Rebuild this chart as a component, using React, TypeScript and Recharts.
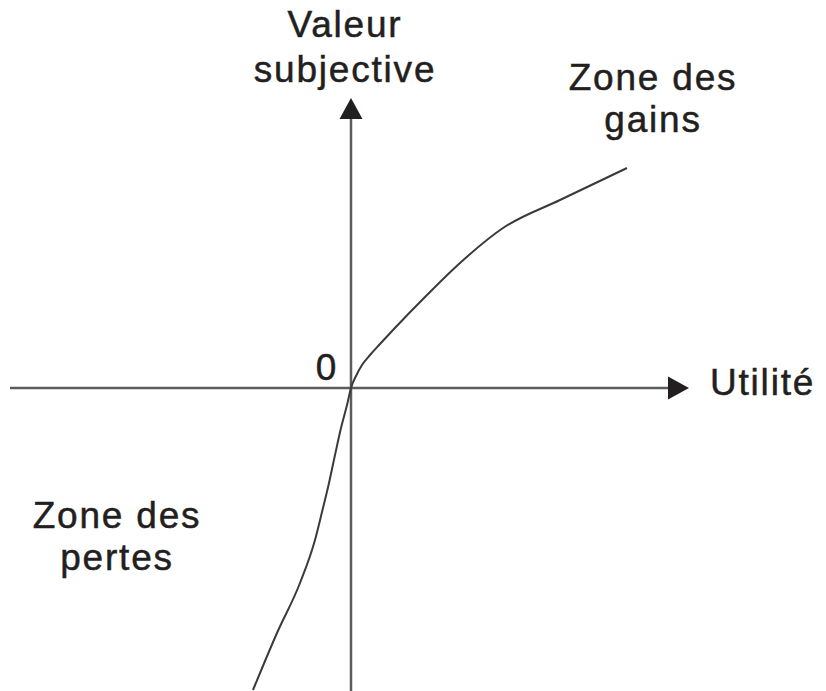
import { LineChart, Line, XAxis, YAxis, ReferenceLine, ReferenceDot } from 'recharts'

// Value function (prospect theory): utility on x, subjective value on y
const utility = [-9.8, -7.4, -5.1, -3.6, -2.9, -2.2, -1.6, -1.0, -0.4, 0, 0.5, 1.1, 1.9, 2.9, 4.2, 7.6, 10.9, 15.2, 20.9, 27.6]
const subjective = [-30.2, -24.5, -19.5, -15.2, -12.4, -9.5, -6.7, -4.0, -1.7, 0, 1.2, 2.3, 3.3, 4.4, 5.8, 9.3, 12.5, 16.0, 18.8, 22.0]

const xDomain: [number, number] = [-35.1, 47.5]
const yDomain: [number, number] = [-30.3, 38.8]

// axis extents (start → arrow tip)
const xAxisFrom = -34.1
const xAxisTo = 33.8
const yAxisFrom = -30.3
const yAxisTo = 29.0

// text labels: [lines, x, y of first baseline, anchor, line gap]
const labels: [string[], number, number, 'start' | 'middle' | 'end', number][] = [
  [['Valeur', 'subjective'], -0.6, 35.1, 'middle', 45],
  [['Zone des', 'gains'], 30.2, 29.8, 'middle', 42],
  [['Zone des', 'pertes'], -23.4, -14.0, 'middle', 42],
  [['0'], -2.4, 0.8, 'middle', 0],
  [['Utilité'], 35.9, -0.7, 'start', 0],
]

const data = utility.map((u, i) => ({ u, v: subjective[i] }))

const AXIS = '#5c5c5c'
const INK = '#231f20'
const FONT = '"Liberation Sans", Arial, sans-serif'

function Arrow(props: any) {
  const { x1, y1, x2, y2 } = props
  const dx = x2 - x1
  const dy = y2 - y1
  const len = Math.sqrt(dx * dx + dy * dy) || 1
  const ux = dx / len
  const uy = dy / len
  const head = 21
  const half = 11.5
  const bx = x2 - ux * head
  const by = y2 - uy * head
  return (
    <g>
      <line x1={x1} y1={y1} x2={bx} y2={by} stroke={AXIS} strokeWidth={2.5} />
      <polygon
        points={`${x2},${y2} ${bx - uy * half},${by + ux * half} ${bx + uy * half},${by - ux * half}`}
        fill={INK}
      />
    </g>
  )
}

export default function App() {
  return (
    <div style={{ position: 'absolute', left: 0, top: 0, background: '#fff' }}>
      <LineChart width={826} height={691} data={data} margin={{ top: 0, right: 0, bottom: 0, left: 0 }}>
        <XAxis type="number" dataKey="u" domain={xDomain} hide />
        <YAxis type="number" domain={yDomain} hide />
        <ReferenceLine
          segment={[{ x: xAxisFrom, y: 0 }, { x: xAxisTo, y: 0 }]}
          ifOverflow="visible"
          shape={Arrow}
        />
        <ReferenceLine
          segment={[{ x: 0, y: yAxisFrom }, { x: 0, y: yAxisTo }]}
          ifOverflow="visible"
          shape={Arrow}
        />
        <Line
          type="monotone"
          dataKey="v"
          stroke="#3a3a3a"
          strokeWidth={2}
          dot={false}
          activeDot={false}
          isAnimationActive={false}
        />
        {labels.map(([lines, x, y, anchor, gap], i) => (
          <ReferenceDot
            key={i}
            x={x}
            y={y}
            r={0}
            ifOverflow="visible"
            shape={(p: any) => (
              <text
                x={p.cx}
                y={p.cy}
                textAnchor={anchor}
                fontFamily={FONT}
                fontSize={37}
                letterSpacing={1.8}
                fill={INK}
                stroke={INK}
                strokeWidth={0.5}
              >
                {lines.map((line, j) => (
                  <tspan key={j} x={p.cx} dy={j === 0 ? 0 : gap}>
                    {line}
                  </tspan>
                ))}
              </text>
            )}
          />
        ))}
      </LineChart>
    </div>
  )
}
